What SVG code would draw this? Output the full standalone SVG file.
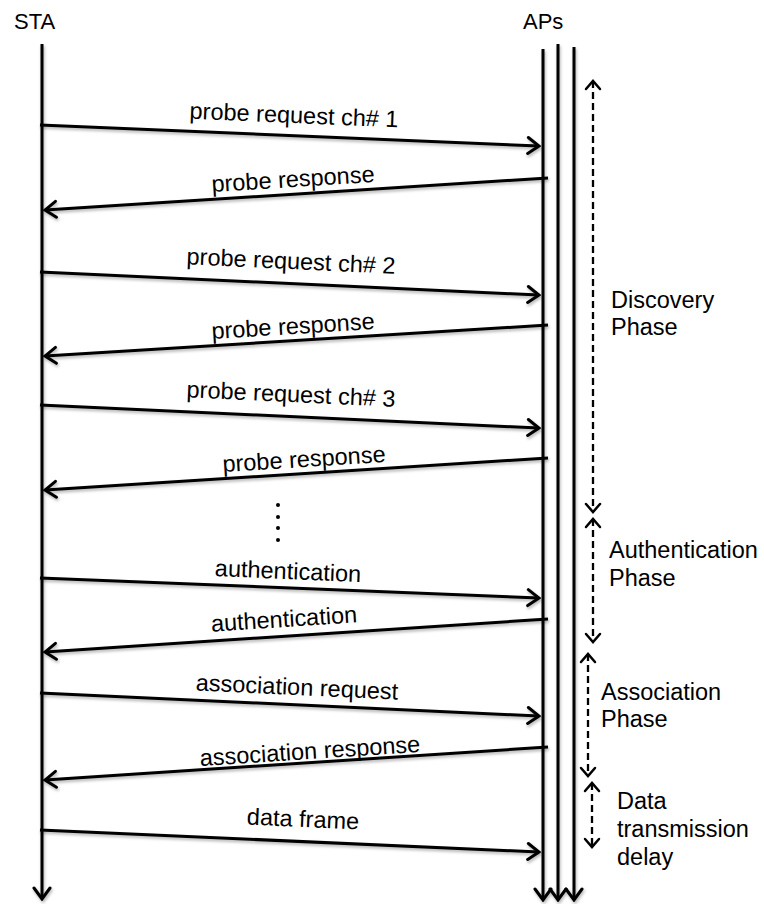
<svg xmlns="http://www.w3.org/2000/svg" width="764" height="904" viewBox="0 0 764 904">
  <defs>
    <style>
      text { font-family: "Liberation Sans", Arial, Helvetica, sans-serif; font-size: 23.5px; fill: #000; }
      .life { stroke: #000; stroke-width: 3; fill: none; }
      .msg { stroke: #000; stroke-width: 3; fill: none; marker-end: url(#head); }
      .span { stroke: #000; stroke-width: 2.3; fill: none; stroke-dasharray: 7 4; marker-start: url(#tip); marker-end: url(#tip); }
      .lbl { text-anchor: middle; }
    </style>
    <marker id="head" viewBox="-14 -10 16 20" markerWidth="16" markerHeight="20" markerUnits="userSpaceOnUse" refX="0" refY="0" orient="auto">
      <path d="M-11,-8 L0,0 L-11,8" fill="none" stroke="#000" stroke-width="3" stroke-linecap="round"/>
    </marker>
    <marker id="tip" viewBox="-11 -9 13 18" markerWidth="13" markerHeight="18" markerUnits="userSpaceOnUse" refX="0" refY="0" orient="auto-start-reverse">
      <path d="M-8,-7 L0,0 L-8,7" fill="none" stroke="#000" stroke-width="2.5" stroke-linecap="round"/>
    </marker>
    <!-- faint drop shadow under the solid strokes -->
    <filter id="soft" filterUnits="userSpaceOnUse" x="0" y="0" width="764" height="904">
      <feDropShadow dx="1" dy="2" stdDeviation="1.5" flood-color="#000" flood-opacity="0.3"/>
    </filter>
  </defs>

  <!-- participants -->
  <g id="sta">
    <text x="14" y="29" style="font-size:22px">STA</text>
    <line class="life" x1="42" y1="44" x2="42" y2="899" marker-end="url(#head)" filter="url(#soft)"/>
  </g>
  <g id="aps">
    <text x="523" y="29" style="font-size:22px">APs</text>
    <g filter="url(#soft)">
      <line class="life" x1="543" y1="49" x2="543" y2="900" marker-end="url(#head)"/>
      <line class="life" x1="558" y1="44" x2="558" y2="900" marker-end="url(#head)"/>
      <line class="life" x1="574" y1="47" x2="574" y2="900" marker-end="url(#head)"/>
    </g>
  </g>

  <!-- message exchange -->
  <g id="connectors" filter="url(#soft)">
    <line class="msg" x1="40" y1="125" x2="539" y2="146"/>
    <line class="msg" x1="548" y1="178" x2="45" y2="210"/>
    <line class="msg" x1="40" y1="272" x2="539" y2="295"/>
    <line class="msg" x1="548" y1="325" x2="45" y2="356"/>
    <line class="msg" x1="40" y1="405" x2="539" y2="428"/>
    <line class="msg" x1="548" y1="458" x2="45" y2="490"/>
    <line class="msg" x1="40" y1="578" x2="539" y2="598"/>
    <line class="msg" x1="548" y1="619" x2="45" y2="652"/>
    <line class="msg" x1="40" y1="693" x2="539" y2="716"/>
    <line class="msg" x1="548" y1="747" x2="45" y2="780"/>
    <line class="msg" x1="40" y1="830" x2="539" y2="852"/>
  </g>

  <g id="labels">
    <text class="lbl" x="294" y="123" transform="rotate(2.4 294 116)">probe request ch# 1</text>
    <text class="lbl" x="293" y="187" transform="rotate(-3.6 293 180)">probe response</text>
    <text class="lbl" x="291" y="269" transform="rotate(2.6 291 262)">probe request ch# 2</text>
    <text class="lbl" x="293" y="334" transform="rotate(-3.5 293 327)">probe response</text>
    <text class="lbl" x="291" y="402" transform="rotate(2.6 291 395)">probe request ch# 3</text>
    <text class="lbl" x="304" y="467" transform="rotate(-3.6 304 460)">probe response</text>
    <text class="lbl" x="288" y="579" transform="rotate(2.3 288 572)">authentication</text>
    <text class="lbl" x="284" y="627" transform="rotate(-3.7 284 620)">authentication</text>
    <text class="lbl" x="297" y="695" transform="rotate(2.6 297 688)">association request</text>
    <text class="lbl" x="310" y="759" transform="rotate(-3.7 310 752)">association response</text>
    <text class="lbl" x="303" y="827" transform="rotate(2.5 303 820)">data frame</text>
  </g>

  <!-- elided probes -->
  <g id="ellipsis" fill="#000">
    <circle cx="278" cy="505" r="2"/>
    <circle cx="278" cy="517" r="2"/>
    <circle cx="278" cy="528" r="2"/>
    <circle cx="278" cy="540" r="2"/>
  </g>

  <!-- phase spans -->
  <g id="discovery">
    <line class="span" x1="593" y1="81" x2="593" y2="512"/>
    <text x="611" y="308">Discovery</text>
    <text x="611" y="335">Phase</text>
  </g>
  <g id="authentication">
    <line class="span" x1="593" y1="519" x2="593" y2="642"/>
    <text x="609" y="558">Authentication</text>
    <text x="609" y="586">Phase</text>
  </g>
  <g id="association">
    <line class="span" x1="588" y1="654" x2="588" y2="776"/>
    <text x="601" y="700">Association</text>
    <text x="601" y="727">Phase</text>
  </g>
  <g id="data">
    <line class="span" x1="592" y1="783" x2="592" y2="847"/>
    <text x="617" y="809">Data</text>
    <text x="617" y="837">transmission</text>
    <text x="617" y="865">delay</text>
  </g>
</svg>
